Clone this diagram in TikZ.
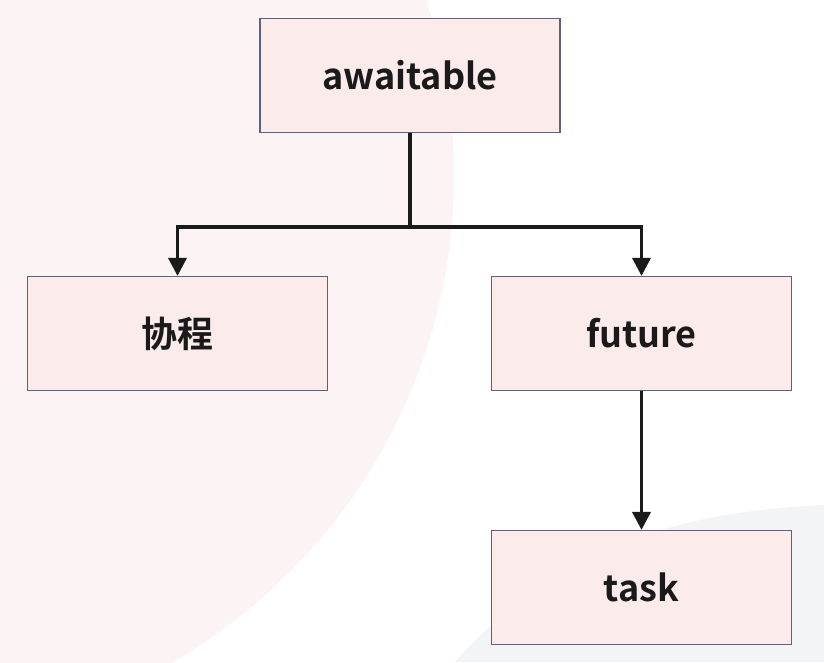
\documentclass[tikz,border=0pt]{standalone}
\usepackage{fontspec}
\setmainfont{Noto Sans CJK SC}[BoldFont={Noto Sans CJK SC Bold}]
\usetikzlibrary{arrows.meta}
\definecolor{bgpink}{HTML}{FBF3F4}
\definecolor{bggray}{HTML}{F3F4F6}
\definecolor{boxfill}{HTML}{FCEBEB}
\definecolor{boxline}{HTML}{5E5E86}
\definecolor{ink}{HTML}{1A1A1A}
\tikzset{
  box/.style={draw=boxline, fill=boxfill, line width=1.2pt, minimum width=300pt,
    minimum height=114pt, inner sep=0pt, text=ink,
    font=\fontsize{36pt}{40pt}\selectfont\bfseries},
  conn/.style={draw=ink, line width=3.5pt},
  arr/.style={conn, -{Triangle[width=18pt,length=18pt]}}
}
\begin{document}
\begin{tikzpicture}[x=1pt,y=-1pt]
  \useasboundingbox (0,0) rectangle (824,662);
  \fill[white] (0,0) rectangle (824,662);
  \begin{scope}
    \clip (0,0) rectangle (824,662);
    \fill[bgpink] (-108,175) circle[radius=562];
    \fill[bggray] (455,662) .. controls (560,545) and (680,512) .. (824,505) -- (824,662) -- cycle;
  \end{scope}
  \node[box] (awaitable) at (410,75.5) {awaitable};
  \node[box] (xiecheng) at (177.5,333.5) {协程};
  \node[box] (future) at (641.5,333.5) {future};
  \node[box] (task) at (641.5,587.5) {task};
  \coordinate (split) at (410,227);
  \draw[conn] (awaitable.south) -- (split);
  \draw[arr] (split) -| (xiecheng.north);
  \draw[arr] (split) -| (future.north);
  \draw[arr] (future.south) -- (task.north);
\end{tikzpicture}
\end{document}
